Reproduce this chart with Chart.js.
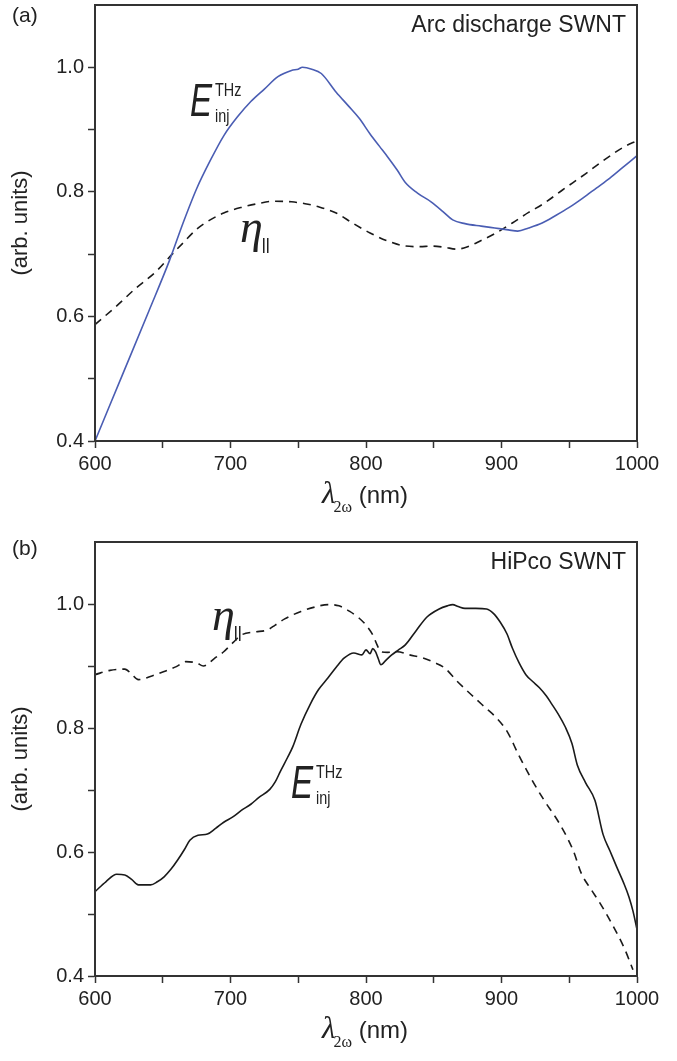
<!DOCTYPE html>
<html>
<head>
<meta charset="utf-8">
<script src="https://cdn.jsdelivr.net/npm/chart.js@4.4.1/dist/chart.umd.min.js"></script>
<style>
  html, body { margin: 0; padding: 0; background: #fff; }
  #wrap { position: relative; width: 677px; height: 1061px; }
  .panel { position: absolute; left: 0; width: 677px; }
</style>
</head>
<body>
<div id="wrap">
  <div class="panel" style="top:0;height:520px"><canvas id="chartA" width="677" height="520"></canvas></div>
  <div class="panel" style="top:520px;height:541px"><canvas id="chartB" width="677" height="541"></canvas></div>
</div>
<script>
// panel (a): arc discharge SWNT
const aLambdaE = [600, 620, 640, 655, 665, 675, 685, 695, 705, 715, 725, 735, 745, 750, 753, 760, 767, 778, 787, 795, 803, 810, 816, 823, 829, 838, 848, 857, 864, 873, 885, 895, 905, 912, 920, 930, 940, 950, 960, 970, 980, 990, 1000];
const aE = [0.400, 0.505, 0.610, 0.690, 0.750, 0.805, 0.850, 0.890, 0.920, 0.945, 0.965, 0.985, 0.995, 0.997, 1.000, 0.997, 0.990, 0.960, 0.938, 0.918, 0.893, 0.873, 0.856, 0.835, 0.815, 0.798, 0.784, 0.768, 0.755, 0.749, 0.745, 0.742, 0.739, 0.737, 0.742, 0.750, 0.762, 0.775, 0.790, 0.806, 0.822, 0.840, 0.858];
const aLambdaEta = [600, 615, 630, 645, 657, 665, 675, 685, 695, 708, 720, 732, 745, 755, 765, 778, 790, 803, 815, 829, 840, 848, 858, 867, 875, 885, 896, 908, 920, 931, 945, 962, 975, 991, 1000];
const aEta = [0.587, 0.615, 0.645, 0.672, 0.700, 0.718, 0.740, 0.755, 0.766, 0.775, 0.781, 0.785, 0.784, 0.781, 0.776, 0.766, 0.750, 0.734, 0.722, 0.713, 0.712, 0.713, 0.711, 0.708, 0.712, 0.722, 0.734, 0.750, 0.767, 0.781, 0.803, 0.829, 0.850, 0.873, 0.882];

// panel (b): HiPco SWNT
const bLambdaE = [600, 608, 616, 622, 627, 632, 641, 646, 651, 656, 661, 666, 670, 676, 683, 689, 695, 702, 708, 715, 721, 729, 733, 737, 742, 746, 752, 759, 765, 772, 778, 784, 791, 797, 800, 803, 805, 807, 809, 811, 815, 819, 824, 829, 837, 845, 854, 860, 864, 868, 873, 881, 889, 894, 899, 904, 908, 913, 918, 923, 928, 933, 937, 942, 947, 952, 956, 962, 969, 975, 980, 985, 990, 994, 997, 1000];
const bE = [0.536, 0.552, 0.564, 0.563, 0.556, 0.547, 0.547, 0.552, 0.560, 0.572, 0.587, 0.604, 0.619, 0.627, 0.629, 0.638, 0.648, 0.657, 0.667, 0.677, 0.688, 0.701, 0.713, 0.731, 0.752, 0.770, 0.806, 0.839, 0.862, 0.881, 0.898, 0.913, 0.921, 0.918, 0.926, 0.920, 0.928, 0.923, 0.912, 0.902, 0.910, 0.918, 0.926, 0.934, 0.957, 0.979, 0.992, 0.997, 0.999, 0.996, 0.993, 0.993, 0.992, 0.985, 0.971, 0.952, 0.929, 0.905, 0.886, 0.875, 0.865, 0.852, 0.839, 0.822, 0.802, 0.775, 0.740, 0.712, 0.683, 0.628, 0.602, 0.576, 0.551, 0.528, 0.505, 0.475];
const bLambdaEta = [600, 611, 622, 627, 632, 642, 651, 660, 667, 675, 680, 688, 695, 702, 708, 718, 727, 733, 740, 752, 762, 772, 780, 788, 795, 800, 805, 808, 811, 816, 823, 832, 842, 850, 858, 867, 880, 888, 896, 904, 913, 922, 931, 943, 953, 959, 966, 972, 982, 991, 997];
const bEta = [0.886, 0.893, 0.895, 0.887, 0.878, 0.884, 0.891, 0.899, 0.907, 0.905, 0.900, 0.912, 0.923, 0.938, 0.950, 0.955, 0.958, 0.966, 0.976, 0.988, 0.995, 0.999, 0.997, 0.988, 0.977, 0.966, 0.950, 0.935, 0.923, 0.922, 0.923, 0.918, 0.913, 0.906, 0.897, 0.876, 0.849, 0.833, 0.817, 0.795, 0.755, 0.718, 0.685, 0.645, 0.602, 0.565, 0.540, 0.520, 0.482, 0.443, 0.410];

// tick labels
const xTickLabels = [600, 700, 800, 900, 1000];
const yTickLabels = ["0.4", "0.6", "0.8", "1.0"];

const AXIS = "#333";
const TXT = "#222";
const SANS = "'Liberation Sans', Arial, sans-serif";
const SERIF = "'Liberation Serif', 'Times New Roman', serif";

function toPoints(xs, ys) {
    return xs.map((x, i) => ({ x: x, y: ys[i] }));
}

function drawE(ctx, x, y) {
    ctx.save();
    ctx.fillStyle = TXT;
    ctx.textBaseline = "alphabetic";
    ctx.translate(x, y);
    ctx.scale(0.72, 1);
    ctx.font = "italic 46px " + SANS;
    ctx.fillText("E", 0, 0);
    ctx.restore();
    ctx.save();
    ctx.fillStyle = TXT;
    ctx.translate(x + 25, y);
    ctx.scale(0.8, 1);
    ctx.font = "18px " + SANS;
    ctx.fillText("THz", 0, -20);
    ctx.fillText("inj", 0, 6);
    ctx.restore();
}

function drawEta(ctx, x, y) {
    ctx.save();
    ctx.fillStyle = TXT;
    ctx.font = "italic 46px " + SERIF;
    ctx.fillText("\u03B7", x, y);
    ctx.fillRect(x + 23, y - 4, 1.5, 15);
    ctx.fillRect(x + 27, y - 4, 1.5, 15);
    ctx.restore();
}

function makeChart(id, opts) {
    const frame = {
        id: "frame" + id,
        afterDraw(chart) {
            const ctx = chart.ctx;
            const a = chart.chartArea;
            ctx.save();
            ctx.strokeStyle = AXIS;
            ctx.lineWidth = 2;
            ctx.strokeRect(a.left, a.top, a.right - a.left, a.bottom - a.top);

            ctx.fillStyle = TXT;
            ctx.textBaseline = "middle";
            ctx.font = "21px " + SANS;
            ctx.textAlign = "left";
            ctx.fillText(opts.panel, 12, opts.panelY);
            ctx.font = "23px " + SANS;
            ctx.textAlign = "right";
            ctx.fillText(opts.sample, a.right - 11, opts.sampleY);

            // y title
            ctx.save();
            ctx.translate(21, (a.top + a.bottom) / 2);
            ctx.rotate(-Math.PI / 2);
            ctx.textAlign = "center";
            ctx.font = "22px " + SANS;
            ctx.fillText("(arb. units)", 0, 0);
            ctx.restore();

            // x title: lambda_2w (nm)
            ctx.textAlign = "left";
            ctx.textBaseline = "alphabetic";
            const cx = (a.left + a.right) / 2;
            const by = a.bottom + 62;
            ctx.font = "italic 31px " + SERIF;
            const w1 = ctx.measureText("\u03BB").width;
            ctx.font = "16px " + SERIF;
            const w2 = ctx.measureText("2\u03C9").width;
            ctx.font = "24px " + SANS;
            const w3 = ctx.measureText(" (nm)").width;
            let sx = cx - (w1 + w2 + w3) / 2;
            ctx.font = "italic 31px " + SERIF;
            ctx.fillText("\u03BB", sx, by);
            ctx.font = "16px " + SERIF;
            ctx.fillText("2\u03C9", sx + w1 - 2, by + 9);
            ctx.font = "24px " + SANS;
            ctx.fillText(" (nm)", sx + w1 + w2 - 2, by);

            drawE(ctx, opts.eX, opts.eY);
            drawEta(ctx, opts.etaX, opts.etaY);
            ctx.restore();
        }
    };

    return new Chart(document.getElementById(id), {
        type: "line",
        data: {
            datasets: [
                {
                    data: opts.eData,
                    borderColor: opts.eColor,
                    borderWidth: 1.6,
                    pointRadius: 0,
                    cubicInterpolationMode: "monotone"
                },
                {
                    data: opts.etaData,
                    borderColor: "#1a1a1a",
                    borderWidth: 1.6,
                    borderDash: [8, 6],
                    pointRadius: 0,
                    cubicInterpolationMode: "monotone"
                }
            ]
        },
        options: {
            responsive: false,
            animation: false,
            devicePixelRatio: 1,
            layout: { padding: { left: 0, right: 40, top: opts.padTop, bottom: 0 } },
            plugins: { legend: { display: false }, tooltip: { enabled: false } },
            scales: {
                x: {
                    type: "linear",
                    min: 600,
                    max: 1000,
                    afterFit(s) { s.height = opts.xHeight; s.paddingLeft = 0; s.paddingRight = 0; },
                    border: { display: true, color: AXIS, width: 2 },
                    grid: { drawOnChartArea: false, drawTicks: true, tickLength: 7, tickColor: AXIS, tickWidth: 1.5 },
                    ticks: {
                        stepSize: 50,
                        padding: 4,
                        maxRotation: 0,
                        autoSkip: false,
                        color: TXT,
                        font: { family: SANS, size: 20 },
                        callback: v => xTickLabels.includes(Math.round(v)) ? String(Math.round(v)) : ""
                    }
                },
                y: {
                    type: "linear",
                    min: 0.4,
                    max: 1.1,
                    afterFit(s) { s.width = 95; s.paddingTop = 0; s.paddingBottom = 0; },
                    border: { display: true, color: AXIS, width: 2 },
                    grid: {
                        drawOnChartArea: false,
                        drawTicks: true,
                        tickLength: 7,
                        tickWidth: 1.5,
                        tickColor: c => (c.tick && c.tick.value > 1.05) ? "rgba(0,0,0,0)" : AXIS
                    },
                    ticks: {
                        stepSize: 0.1,
                        padding: 4,
                        autoSkip: false,
                        color: TXT,
                        font: { family: SANS, size: 20 },
                        callback: v => {
                            const s = (Math.round(v * 10) / 10).toFixed(1);
                            return yTickLabels.includes(s) ? s : "";
                        }
                    }
                }
            }
        },
        plugins: [frame]
    });
}

makeChart("chartA", {
    panel: "(a)", panelY: 16, sample: "Arc discharge SWNT", sampleY: 26,
    padTop: 5, xHeight: 79,
    eData: toPoints(aLambdaE, aE), eColor: "#4a5db3",
    etaData: toPoints(aLambdaEta, aEta),
    eX: 190, eY: 116, etaX: 240, etaY: 242
});

makeChart("chartB", {
    panel: "(b)", panelY: 29, sample: "HiPco SWNT", sampleY: 43,
    padTop: 22, xHeight: 85,
    eData: toPoints(bLambdaE, bE), eColor: "#1a1a1a",
    etaData: toPoints(bLambdaEta, bEta),
    eX: 291, eY: 278, etaX: 212, etaY: 110
});
</script>
</body>
</html>
